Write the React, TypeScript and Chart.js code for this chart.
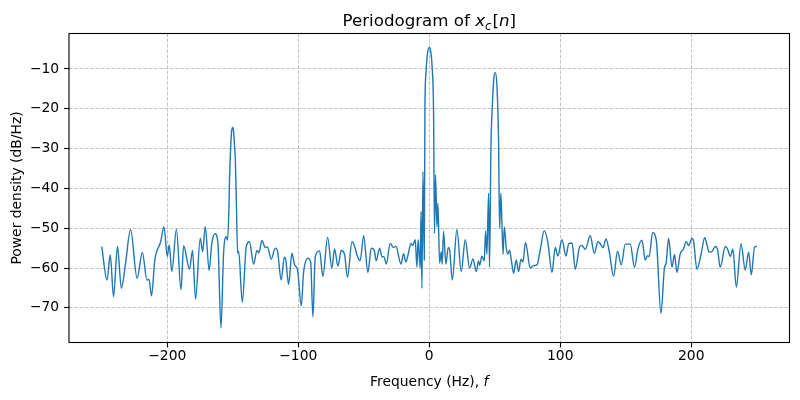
import React, { useEffect, useRef } from "react";
import { Chart, registerables } from "chart.js";

Chart.register(...registerables);

const freqs: number[] = [
  -250, -246, -243.5, -241, -238, -235, -232, -228, -223, -219, -215.5, -214, -212, -209.5, -205, -202.5,
  -200, -198.5, -196.5, -193, -189.5, -187.5, -183, -180.7, -178.4, -174.8, -173, -171, -168, -166, -163.4,
  -161.3, -159, -157, -155, -154, -153, -152.4, -151.5, -150.8, -150.1, -149.4, -148.7, -148, -147.2, -146.3,
  -145.5, -142.7, -139.7, -137.2, -134.1, -131.5, -130, -127.7, -125.2, -123.5, -120.6, -117.6, -116, -113,
  -110.7, -109.5, -107.4, -104.8, -102.8, -100.5, -97.7, -96, -92.6, -90.5, -88.8, -87, -83.7, -81.2, -77.6,
  -74.3, -72.3, -69.7, -67.2, -64.7, -62.4, -59, -57, -55.2, -52.7, -50.1, -46.8, -44.3, -42, -40.5, -37.9,
  -36.1, -34.5, -32.8, -29.8, -27.5, -25.4, -21.6, -19.6, -17.8, -16, -14, -12.5, -10.7, -9.4, -8.5, -6.9,
  -6.3, -5.6, -4.8, -3.8, -3.3, -2.5, -1.5, 0, 1.2, 2.2, 3.3, 4, 4.8, 5.9, 6.6, 7.9, 9.2, 9.9, 10.9, 12.7,
  14.5, 15.5, 17.6, 21.1, 24.4, 27.5, 30.8, 33.4, 35.9, 37.6, 38.5, 40.2, 42, 43, 44, 45.3, 46, 47.1, 48.2,
  49.3, 50.4, 51.7, 52.9, 53.7, 54.7, 56.3, 57.3, 58.8, 60, 61.3, 62.6, 64.4, 66.4, 68.2, 70, 71.5, 73.5,
  77.1, 79.6, 82.2, 84.7, 87.8, 90.5, 93.7, 96.2, 98.2, 101.3, 104.4, 106.4, 109, 111.5, 114.8, 116.5, 119.1,
  122.9, 126, 128.8, 130.5, 132.6, 134.9, 137.5, 140.7, 143.7, 146.6, 149.6, 153.4, 156.7, 159.3, 162.4,
  164.9, 166.5, 167.9, 170.5, 173.3, 176.9, 179.6, 180.8, 182.7, 185.3, 187.2, 189.1, 191.5, 194.1, 196.2,
  198, 200.5, 201.8, 204.3, 207.6, 210.2, 211.8, 213.7, 216, 218.3, 220, 222.1, 226, 227.8, 229.8, 231.8,
  234.4, 238, 241.2, 243.8, 245.8, 248.4, 250,
];

const powerDb: number[] = [
  -54.6, -63.0, -56.7, -67.2, -54.6, -65.1, -59.2, -50.4, -62.6, -56.1, -63.0, -62.8, -67.0, -58.0, -53.4, -49.6,
  -57.1, -54.2, -60.9, -50.3, -65.5, -54.4, -60.3, -55.6, -67.8, -52.5, -55.9, -49.6, -60.6, -53.8, -51.4,
  -53.8, -75.1, -56.3, -52.1, -53, -46, -37, -29, -25.5, -24.7, -25.5, -29, -33, -44, -56.3,
  -55.8, -68.6, -54.6, -53.4, -59.0, -55.6, -56.2, -53.1, -54.8, -54.7, -57.8, -55.0, -55.5, -63.0,
  -57.3, -58, -64.1, -56.3, -59.2, -60.5, -69.5, -61.3, -57.5, -58.5, -72.3, -57.1, -55.7, -62.1, -52.3,
  -60.0, -55.2, -59.5, -55.6, -56.5, -62.3, -53.4, -54.5, -56.7, -58.1, -51.9, -61.1, -55, -55.5, -58.2, -55,
  -57.1, -57.2, -59.0, -53.8, -54.8, -54.6, -59.0, -56.4, -58.5, -56.4, -53.8, -54.3, -52.9, -59.8, -52.9, -60.0,
  -45.8, -65.1, -35.8, -58, -20, -11, -6.5, -4.6, -5.8, -9.5, -21.1, -51.3, -36.6, -49.6, -43.7, -58.8, -55.9, -59.0, -50.8, -59.0,
  -54.8, -55.3, -63.0, -50.3, -60.9, -52.9, -60.0, -57.7, -60.9, -58.2, -59.3, -57, -58.2, -50.7, -56.5, -41.2, -59.8, -29.5, -19,
  -12.5, -10.9, -14.4, -27.8, -50, -41.2, -56.6, -49.7, -55, -56.5, -55.5, -57.9, -61.3, -58, -60.9, -57.8, -58.5, -53.6,
  -60, -59.4, -59.2, -55.5, -50.6, -53.5, -61.1, -54.8, -57, -52.9, -57, -53.9, -53.7, -60.3, -54.6, -54.3, -55.3,
  -51.9, -56.3, -53.4, -53.9, -54.9, -52.7, -56, -62.1, -55.8, -59.2, -54, -54, -59.8, -55.2, -53,
  -58, -56.9, -57.1, -51.1, -53, -71.4, -59.8, -58.8, -52.5, -59.8, -56.6, -61.1, -56.5, -55.2, -53.3,
  -54.4, -52.6, -53.3, -60.3, -56.4, -52.4, -53.9, -56, -55.8, -54.6, -55.2, -59.8, -54.6, -55.3, -57.1, -55.3,
  -64.8, -53.9, -60.5, -56, -61.7, -54.7, -54.6,
];

const xTicks: number[] = [-200, -100, 0, 100, 200];
const yTicks: number[] = [-70, -60, -50, -40, -30, -20, -10];

const FONT = '"DejaVu Sans", sans-serif';

const fmt = (v: number) => (v < 0 ? "\u2212" + Math.abs(v) : String(v));

const labelsPlugin = {
  id: "mplLabels",
  afterDraw(chart: any) {
    const ctx: CanvasRenderingContext2D = chart.ctx;
    const a = chart.chartArea;
    ctx.save();
    // frame
    ctx.strokeStyle = "#000";
    ctx.lineWidth = 1.1;
    ctx.setLineDash([]);
    ctx.strokeRect(a.left, a.top, a.right - a.left, a.bottom - a.top);

    const cx = (a.left + a.right) / 2;
    ctx.fillStyle = "#000";
    ctx.textBaseline = "alphabetic";
    ctx.textAlign = "left";

    // title
    const ts = 16.67;
    const parts = [
      { t: "Periodogram of ", f: `${ts}px ${FONT}`, dy: 0, dx: 0 },
      { t: "x", f: `italic ${ts}px ${FONT}`, dy: 0, dx: 0 },
      { t: "c", f: `italic ${ts * 0.7}px ${FONT}`, dy: ts * 0.22, dx: 0 },
      { t: "[", f: `${ts}px ${FONT}`, dy: 0, dx: 1 },
      { t: "n", f: `italic ${ts}px ${FONT}`, dy: 0, dx: 0 },
      { t: "]", f: `${ts}px ${FONT}`, dy: 0, dx: 0 },
    ];
    let total = 0;
    for (const p of parts) {
      ctx.font = p.f;
      total += ctx.measureText(p.t).width + p.dx;
    }
    let x = cx - total / 2;
    const base = 26;
    for (const p of parts) {
      ctx.font = p.f;
      x += p.dx;
      ctx.fillText(p.t, x, base + p.dy);
      x += ctx.measureText(p.t).width;
    }

    // x label
    const ls = 13.89;
    const xparts = [
      { t: "Frequency (Hz), ", f: `${ls}px ${FONT}` },
      { t: "f", f: `italic ${ls}px ${FONT}` },
    ];
    total = 0;
    for (const p of xparts) {
      ctx.font = p.f;
      total += ctx.measureText(p.t).width;
    }
    x = cx - total / 2;
    for (const p of xparts) {
      ctx.font = p.f;
      ctx.fillText(p.t, x, 386);
      x += ctx.measureText(p.t).width;
    }

    // y label
    ctx.font = `${ls}px ${FONT}`;
    ctx.translate(17, (a.top + a.bottom) / 2);
    ctx.rotate(-Math.PI / 2);
    ctx.textAlign = "center";
    ctx.textBaseline = "middle";
    ctx.fillText("Power density (dB/Hz)", 0, 0);
    ctx.restore();
  },
};

export default function App() {
  const ref = useRef<HTMLCanvasElement | null>(null);

  useEffect(() => {
    document.body.style.margin = "0";
    const canvas = ref.current;
    if (!canvas) return;
    const points = freqs.map((f, i) => ({ x: f, y: powerDb[i] }));
    const gridColor = "#c4c4c4";
    const chart = new Chart(canvas, {
      type: "line",
      data: {
        datasets: [
          {
            data: points,
            borderColor: "#1f77b4",
            borderWidth: 1.4,
            pointRadius: 0,
            fill: false,
            cubicInterpolationMode: "monotone",
          },
        ],
      },
      options: {
        animation: false,
        responsive: false,
        devicePixelRatio: 1,
        events: [],
        layout: { padding: { top: 33.5, right: 10.5, bottom: 0, left: 0 } },
        plugins: {
          legend: { display: false },
          title: { display: false },
          tooltip: { enabled: false },
        },
        scales: {
          x: {
            type: "linear",
            min: -275,
            max: 275,
            afterBuildTicks: (s: any) => {
              s.ticks = xTicks.map((v) => ({ value: v }));
            },
            afterFit: (s: any) => {
              s.height = 57.5;
            },
            border: { display: false, dash: [3.7, 1.6] },
            grid: {
              color: gridColor,
              lineWidth: 1,
              drawTicks: true,
              tickLength: 4.9,
              tickColor: "#000",
              tickWidth: 1.1,
              tickBorderDash: [],
            },
            ticks: {
              color: "#000",
              font: { family: FONT, size: 13.89 },
              padding: 0.5,
              autoSkip: false,
              maxRotation: 0,
              callback: (v: any) => fmt(Number(v)),
            },
          },
          y: {
            type: "linear",
            min: -78.7,
            max: -1.1,
            afterBuildTicks: (s: any) => {
              s.ticks = yTicks.map((v) => ({ value: v }));
            },
            afterFit: (s: any) => {
              s.width = 69;
            },
            border: { display: false, dash: [3.7, 1.6] },
            grid: {
              color: gridColor,
              lineWidth: 1,
              drawTicks: true,
              tickLength: 4.9,
              tickColor: "#000",
              tickWidth: 1.1,
              tickBorderDash: [],
            },
            ticks: {
              color: "#000",
              font: { family: FONT, size: 13.89 },
              padding: 4.9,
              autoSkip: false,
              callback: (v: any) => fmt(Number(v)),
            },
          },
        },
      },
      plugins: [labelsPlugin],
    } as any);
    return () => chart.destroy();
  }, []);

  return (
    <div style={{ position: "absolute", left: 0, top: 0, width: 800, height: 400, background: "#fff" }}>
      <canvas ref={ref} width={800} height={400} style={{ width: 800, height: 400 }} />
    </div>
  );
}
